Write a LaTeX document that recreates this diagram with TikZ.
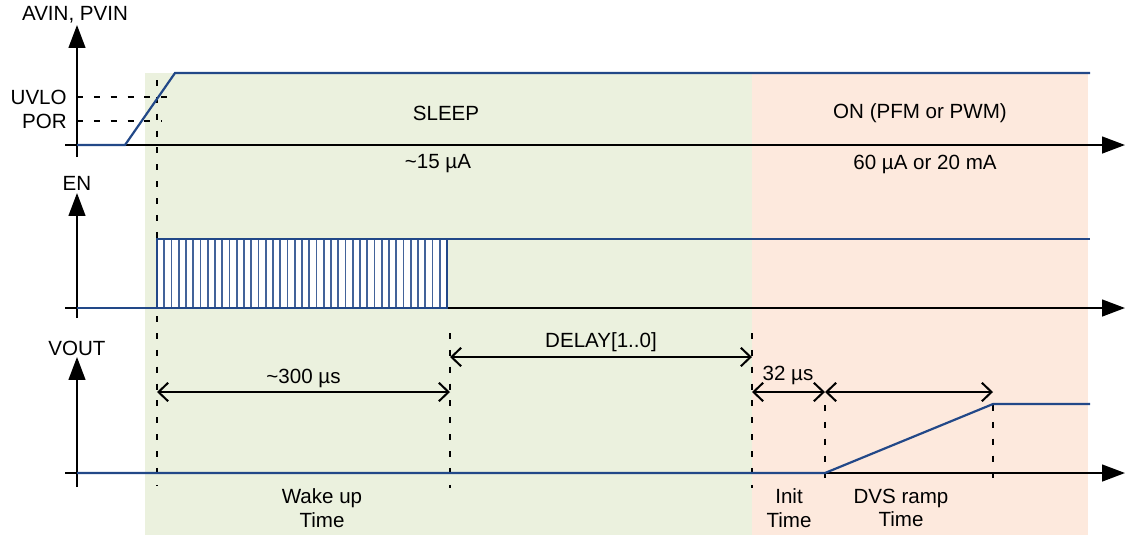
\documentclass[tikz,border=0pt]{standalone}
\usepackage{fontspec}
\setmainfont{Liberation Sans}
\usetikzlibrary{arrows.meta}
\definecolor{sleepgreen}{RGB}{235,241,222}
\definecolor{onpink}{RGB}{253,233,221}
\definecolor{sigblue}{RGB}{34,72,136}

\begin{document}
\begin{tikzpicture}[x=0.02cm, y=-0.02cm,
    axis/.style={line width=1.15pt, -{Triangle[length=13pt, width=9.5pt]}},
    sig/.style={sigblue, line width=1.25pt},
    guide/.style={line width=0.6pt, dash pattern=on 3.4pt off 6.2pt},
    dim/.style={line width=1.15pt, {Straight Barb[length=5.5pt, width=10.5pt]}-{Straight Barb[length=5.5pt, width=10.5pt]}},
    lbl/.style={font=\fontsize{11.7}{14}\selectfont, inner sep=0pt}]

    \useasboundingbox (0,0) rectangle (1135,535);
    \fill[sleepgreen] (145,73) rectangle (752,535);
    \fill[onpink] (752,73) rectangle (1088,535);

    % axes
    \coordinate (a0) at (77,157); \coordinate (a1) at (77,25);
    \coordinate (a2) at (65,145); \coordinate (a3) at (1125,145);
    \coordinate (e0) at (77,318); \coordinate (e1) at (77,193);
    \coordinate (e2) at (65,308); \coordinate (e3) at (1125,308);
    \coordinate (v0) at (77,487); \coordinate (v1) at (77,357);
    \coordinate (v2) at (65,473); \coordinate (v3) at (1125,473);
    \draw[axis] (a0) -- (a1);
    \draw[axis] (a2) -- (a3);
    \draw[axis] (e0) -- (e1);
    \draw[axis] (e2) -- (e3);
    \draw[axis] (v0) -- (v1);
    \draw[axis] (v2) -- (v3);

    \node[lbl] (avin) at (75,15) {AVIN, PVIN};
    \node[lbl] (en) at (77,183) {EN};
    \node[lbl] (vout) at (77,348) {VOUT};
    \node[lbl, anchor=east] (uvlo) at (67,97) {UVLO};
    \node[lbl, anchor=east] (por) at (67,121) {POR};

    % guide lines
    \coordinate (u0) at (77,97); \coordinate (u1) at (176,97);
    \coordinate (p0) at (77,121); \coordinate (p1) at (162,121);
    \draw[guide] (u0) -- (u1);
    \draw[guide] (p0) -- (p1);
    \draw[guide] (157,80) -- (157,485);
    \draw[guide] (450,333) -- (450,488);
    \draw[guide] (752,333) -- (752,488);
    \draw[guide] (825,405) -- (825,488);
    \draw[guide] (993,405) -- (993,488);

    % state labels
    \node[lbl] (sleep) at (446,113) {SLEEP};
    \node[lbl] (isleep) at (438,164) {\textasciitilde 15 µA};
    \node[lbl] (on) at (920,113) {ON (PFM or PWM)};
    \node[lbl] (ion) at (925,164) {60 µA or 20 mA};

    % signals
    \draw[sig] (77,145) -- (125,145) -- (175,73) -- (1090,73);
    \fill[white] (157,239) rectangle (447,308);
    \foreach \i in {1,...,39}
        \draw[sigblue!85, line width=0.9pt] (157+\i*7.25,239) -- (157+\i*7.25,308);
    \draw[sig] (77,308) -- (157,308) -- (157,239) -- (1090,239);
    \draw[sig] (447,239) -- (447,308) -- (157,308);
    \draw[sig] (77,473) -- (825,473) -- (993,404) -- (1090,404);

    % timing arrows
    \coordinate (w0) at (157,392); \coordinate (w1) at (450,392);
    \coordinate (d0) at (450,357); \coordinate (d1) at (752,357);
    \coordinate (i0) at (752,392); \coordinate (i1) at (825,392);
    \coordinate (r1) at (993,392);
    \draw[dim] (w0) -- node[lbl, above=2pt] (twake) {\textasciitilde 300 µs} (w1);
    \draw[dim] (d0) -- node[lbl, above=2.5pt] (tdelay) {DELAY[1..0]} (d1);
    \draw[dim] (i0) -- (i1);
    \draw[dim] (i1) -- (r1);
    \node[lbl] (tinit) at (788,375) {32 µs};

    \node[lbl, align=center] (wake) at (322,508) {Wake up\\[-0.5pt]Time};
    \node[lbl, align=center] (init) at (789,508) {Init\\[-0.5pt]Time};
    \node[lbl, align=center] (dvs) at (901,508) {DVS ramp\\[-0.5pt]Time};
\end{tikzpicture}
\end{document}
